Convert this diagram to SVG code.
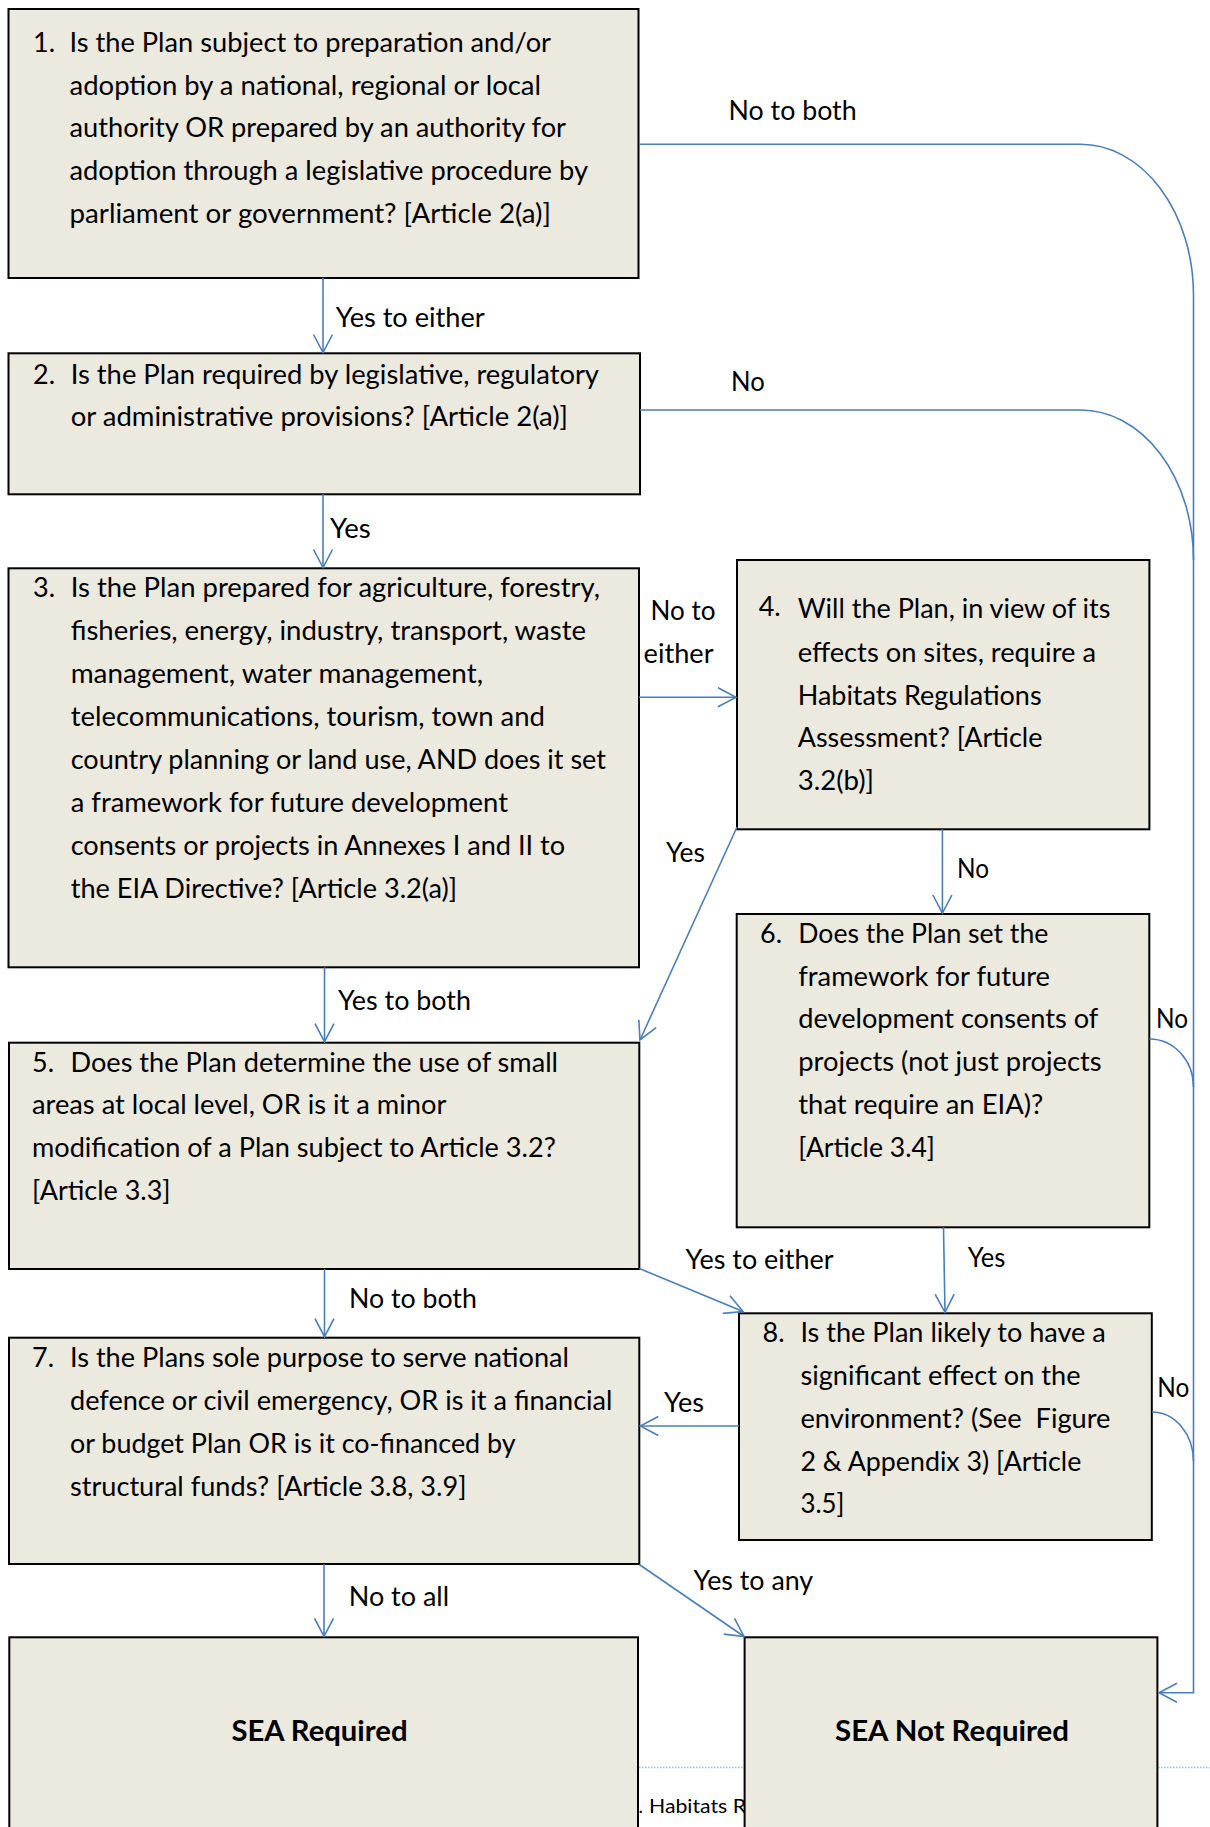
<svg xmlns="http://www.w3.org/2000/svg" width="1210" height="1827" viewBox="0 0 1210 1827">
<defs>
<style>
.box{fill:#ECE9DF;stroke:#000;stroke-width:2}
.t{font-family:Lato,"Open Sans","Liberation Sans",sans-serif;font-size:27px;fill:#000}
.lbl{font-family:Lato,"Open Sans","Liberation Sans",sans-serif;font-size:27px;fill:#000}
.bold{font-family:Lato,"Open Sans","Liberation Sans",sans-serif;font-size:28px;font-weight:bold;fill:#000}
.conn{stroke:#4A7EBB;stroke-width:1.6;fill:none}
.frag{font-family:Lato,"Liberation Sans",sans-serif;font-size:19px;fill:#000}
</style>
<marker id="arr" markerUnits="userSpaceOnUse" markerWidth="24" markerHeight="24" viewBox="-20 -12 24 24" refX="0" refY="0" orient="auto" overflow="visible">
<path d="M-18,-9.5 L0,0 L-18,9.5" fill="none" stroke="#4A7EBB" stroke-width="1.6"/>
</marker>
</defs>
<rect width="1210" height="1827" fill="#fff"/>

<g id="background-fragments">
<line x1="639" y1="1767.5" x2="1210" y2="1767.5" stroke="#8CC4DA" stroke-width="1.5" stroke-dasharray="1.5 1.5"/>
<text class="frag" x="638.5" y="1813">.</text>
<text class="frag" x="649" y="1813" textLength="97" lengthAdjust="spacingAndGlyphs">Habitats R</text>
</g>

<g id="node1">
<rect class="box" x="8.5" y="9" width="630" height="269"/>
<text class="t" x="33" y="52">1.</text>
<text class="t" x="69.5" y="52" textLength="481.5" lengthAdjust="spacingAndGlyphs">Is the Plan subject to preparation and/or</text>
<text class="t" x="69.5" y="94.5" textLength="471.5" lengthAdjust="spacingAndGlyphs">adoption by a national, regional or local</text>
<text class="t" x="69.5" y="137" textLength="496.5" lengthAdjust="spacingAndGlyphs">authority OR prepared by an authority for</text>
<text class="t" x="69.5" y="180" textLength="518.5" lengthAdjust="spacingAndGlyphs">adoption through a legislative procedure by</text>
<text class="t" x="69.5" y="223" textLength="481.5" lengthAdjust="spacingAndGlyphs">parliament or government? [Article 2(a)]</text>
</g>

<g id="node2">
<rect class="box" x="8.5" y="353.3" width="631.5" height="141"/>
<text class="t" x="33" y="383.5">2.</text>
<text class="t" x="70.7" y="383.5" textLength="528.3" lengthAdjust="spacingAndGlyphs">Is the Plan required by legislative, regulatory</text>
<text class="t" x="70.7" y="426" textLength="497.3" lengthAdjust="spacingAndGlyphs">or administrative provisions? [Article 2(a)]</text>
</g>

<g id="node3">
<rect class="box" x="8.5" y="568.3" width="630.5" height="399"/>
<text class="t" x="33" y="597">3.</text>
<text class="t" x="70.7" y="597" textLength="529.3" lengthAdjust="spacingAndGlyphs">Is the Plan prepared for agriculture, forestry,</text>
<text class="t" x="70.7" y="640" textLength="515.3" lengthAdjust="spacingAndGlyphs">fisheries, energy, industry, transport, waste</text>
<text class="t" x="70.7" y="683" textLength="412.3" lengthAdjust="spacingAndGlyphs">management, water management,</text>
<text class="t" x="70.7" y="726" textLength="474.3" lengthAdjust="spacingAndGlyphs">telecommunications, tourism, town and</text>
<text class="t" x="70.7" y="769" textLength="535.3" lengthAdjust="spacingAndGlyphs">country planning or land use, AND does it set</text>
<text class="t" x="70.7" y="812" textLength="437.3" lengthAdjust="spacingAndGlyphs">a framework for future development</text>
<text class="t" x="70.7" y="855" textLength="494.3" lengthAdjust="spacingAndGlyphs">consents or projects in Annexes I and II to</text>
<text class="t" x="70.7" y="898" textLength="386.3" lengthAdjust="spacingAndGlyphs">the EIA Directive? [Article 3.2(a)]</text>
</g>

<g id="node4">
<rect class="box" x="737" y="560" width="412.4" height="269.3"/>
<text class="t" x="758.7" y="616">4.</text>
<text class="t" x="797.7" y="618" textLength="312.8" lengthAdjust="spacingAndGlyphs">Will the Plan, in view of its</text>
<text class="t" x="797.7" y="661.5" textLength="298.3" lengthAdjust="spacingAndGlyphs">effects on sites, require a</text>
<text class="t" x="797.7" y="704.5" textLength="243.9" lengthAdjust="spacingAndGlyphs">Habitats Regulations</text>
<text class="t" x="797.7" y="747" textLength="244.7" lengthAdjust="spacingAndGlyphs">Assessment? [Article</text>
<text class="t" x="797.7" y="790" textLength="76.3" lengthAdjust="spacingAndGlyphs">3.2(b)]</text>
</g>

<g id="node5">
<rect class="box" x="9" y="1042.7" width="630.3" height="226.3"/>
<text class="t" x="32" y="1071.7">5.</text>
<text class="t" x="70.5" y="1071.7" textLength="487.5" lengthAdjust="spacingAndGlyphs">Does the Plan determine the use of small</text>
<text class="t" x="32" y="1114.3" textLength="414.4" lengthAdjust="spacingAndGlyphs">areas at local level, OR is it a minor</text>
<text class="t" x="32" y="1157.3" textLength="523.8" lengthAdjust="spacingAndGlyphs">modification of a Plan subject to Article 3.2?</text>
<text class="t" x="32" y="1200" textLength="138.5" lengthAdjust="spacingAndGlyphs">[Article 3.3]</text>
</g>

<g id="node6">
<rect class="box" x="736.7" y="914" width="412.6" height="313.3"/>
<text class="t" x="760" y="942.7">6.</text>
<text class="t" x="798.3" y="942.7" textLength="250" lengthAdjust="spacingAndGlyphs">Does the Plan set the</text>
<text class="t" x="798.3" y="985.7" textLength="251.7" lengthAdjust="spacingAndGlyphs">framework for future</text>
<text class="t" x="798.3" y="1028.3" textLength="300" lengthAdjust="spacingAndGlyphs">development consents of</text>
<text class="t" x="798.3" y="1071" textLength="303.4" lengthAdjust="spacingAndGlyphs">projects (not just projects</text>
<text class="t" x="798.3" y="1114.3" textLength="245" lengthAdjust="spacingAndGlyphs">that require an EIA)?</text>
<text class="t" x="798.3" y="1157.3" textLength="136.7" lengthAdjust="spacingAndGlyphs">[Article 3.4]</text>
</g>

<g id="node7">
<rect class="box" x="9" y="1337.7" width="630.3" height="226.3"/>
<text class="t" x="32" y="1366.7">7.</text>
<text class="t" x="70" y="1366.7" textLength="499" lengthAdjust="spacingAndGlyphs">Is the Plans sole purpose to serve national</text>
<text class="t" x="70" y="1410" textLength="542.5" lengthAdjust="spacingAndGlyphs">defence or civil emergency, OR is it a financial</text>
<text class="t" x="70" y="1452.7" textLength="445.6" lengthAdjust="spacingAndGlyphs">or budget Plan OR is it co-financed by</text>
<text class="t" x="70" y="1496" textLength="396.5" lengthAdjust="spacingAndGlyphs">structural funds? [Article 3.8, 3.9]</text>
</g>

<g id="node8">
<rect class="box" x="739" y="1313.3" width="412.8" height="226.7"/>
<text class="t" x="762.6" y="1341.7">8.</text>
<text class="t" x="800.4" y="1341.7" textLength="305.4" lengthAdjust="spacingAndGlyphs">Is the Plan likely to have a</text>
<text class="t" x="800.4" y="1385" textLength="280.1" lengthAdjust="spacingAndGlyphs">significant effect on the</text>
<text class="t" x="800.4" y="1427.7" textLength="310.1" lengthAdjust="spacingAndGlyphs" xml:space="preserve">environment? (See  Figure</text>
<text class="t" x="800.4" y="1470.7" textLength="280.9" lengthAdjust="spacingAndGlyphs">2 &amp; Appendix 3) [Article</text>
<text class="t" x="800.4" y="1513.3" textLength="44" lengthAdjust="spacingAndGlyphs">3.5]</text>
</g>

<g id="sea-required">
<rect class="box" x="9.3" y="1637.3" width="628.7" height="210"/>
<text class="bold" x="231.5" y="1741" textLength="176" lengthAdjust="spacingAndGlyphs">SEA Required</text>
</g>

<g id="sea-not-required">
<rect class="box" x="744.6" y="1637.3" width="412.8" height="210"/>
<text class="bold" x="835" y="1741" textLength="234" lengthAdjust="spacingAndGlyphs">SEA Not Required</text>
</g>

<g id="connectors">
<path class="conn" d="M639,144.3 H1080.5 A113,151 0 0 1 1193.5,295 V1692.7 H1159" marker-end="url(#arr)"/>
<path class="conn" d="M640,410 H1080.5 A113,150 0 0 1 1193.5,560"/>
<path class="conn" d="M1149.5,1039 A44,48 0 0 1 1193.5,1087"/>
<path class="conn" d="M1152,1412 A41.5,49.5 0 0 1 1193.5,1461.5"/>
<path class="conn" d="M323,278 V352.5" marker-end="url(#arr)"/>
<path class="conn" d="M323,494.3 V567.5" marker-end="url(#arr)"/>
<path class="conn" d="M639,697.3 H736" marker-end="url(#arr)"/>
<path class="conn" d="M737,827 L640,1040" marker-end="url(#arr)"/>
<path class="conn" d="M942.4,829.3 V913" marker-end="url(#arr)"/>
<path class="conn" d="M324.5,967.3 V1041.7" marker-end="url(#arr)"/>
<path class="conn" d="M324.5,1269 V1336.7" marker-end="url(#arr)"/>
<path class="conn" d="M639.3,1268.5 L743,1311.5" marker-end="url(#arr)"/>
<path class="conn" d="M943.5,1227.3 L945,1312.3" marker-end="url(#arr)"/>
<path class="conn" d="M739,1426 H640.3" marker-end="url(#arr)"/>
<path class="conn" d="M324,1564 V1636.3" marker-end="url(#arr)"/>
<path class="conn" d="M639.3,1564.5 L744,1636.5" marker-end="url(#arr)"/>
</g>

<g id="connector-labels">
<text class="lbl" x="728.6" y="120" textLength="128" lengthAdjust="spacingAndGlyphs">No to both</text>
<text class="lbl" x="335.7" y="326.5" textLength="149" lengthAdjust="spacingAndGlyphs">Yes to either</text>
<text class="lbl" x="731" y="390.7" textLength="33.7" lengthAdjust="spacingAndGlyphs">No</text>
<text class="lbl" x="330" y="538" textLength="40.7" lengthAdjust="spacingAndGlyphs">Yes</text>
<text class="lbl" x="650.6" y="620" textLength="65" lengthAdjust="spacingAndGlyphs">No to</text>
<text class="lbl" x="643.6" y="663.3" textLength="70" lengthAdjust="spacingAndGlyphs">either</text>
<text class="lbl" x="666" y="861.7" textLength="39" lengthAdjust="spacingAndGlyphs">Yes</text>
<text class="lbl" x="957" y="878.3" textLength="32" lengthAdjust="spacingAndGlyphs">No</text>
<text class="lbl" x="338" y="1010" textLength="133" lengthAdjust="spacingAndGlyphs">Yes to both</text>
<text class="lbl" x="1156" y="1027.7" textLength="32" lengthAdjust="spacingAndGlyphs">No</text>
<text class="lbl" x="685.6" y="1269.3" textLength="148" lengthAdjust="spacingAndGlyphs">Yes to either</text>
<text class="lbl" x="967.7" y="1266.7" textLength="37.7" lengthAdjust="spacingAndGlyphs">Yes</text>
<text class="lbl" x="349" y="1308.3" textLength="127.8" lengthAdjust="spacingAndGlyphs">No to both</text>
<text class="lbl" x="664" y="1411.7" textLength="40" lengthAdjust="spacingAndGlyphs">Yes</text>
<text class="lbl" x="1157.3" y="1396.7" textLength="32" lengthAdjust="spacingAndGlyphs">No</text>
<text class="lbl" x="693.4" y="1590" textLength="119.8" lengthAdjust="spacingAndGlyphs">Yes to any</text>
<text class="lbl" x="348.8" y="1606" textLength="100.2" lengthAdjust="spacingAndGlyphs">No to all</text>
</g>
</svg>
